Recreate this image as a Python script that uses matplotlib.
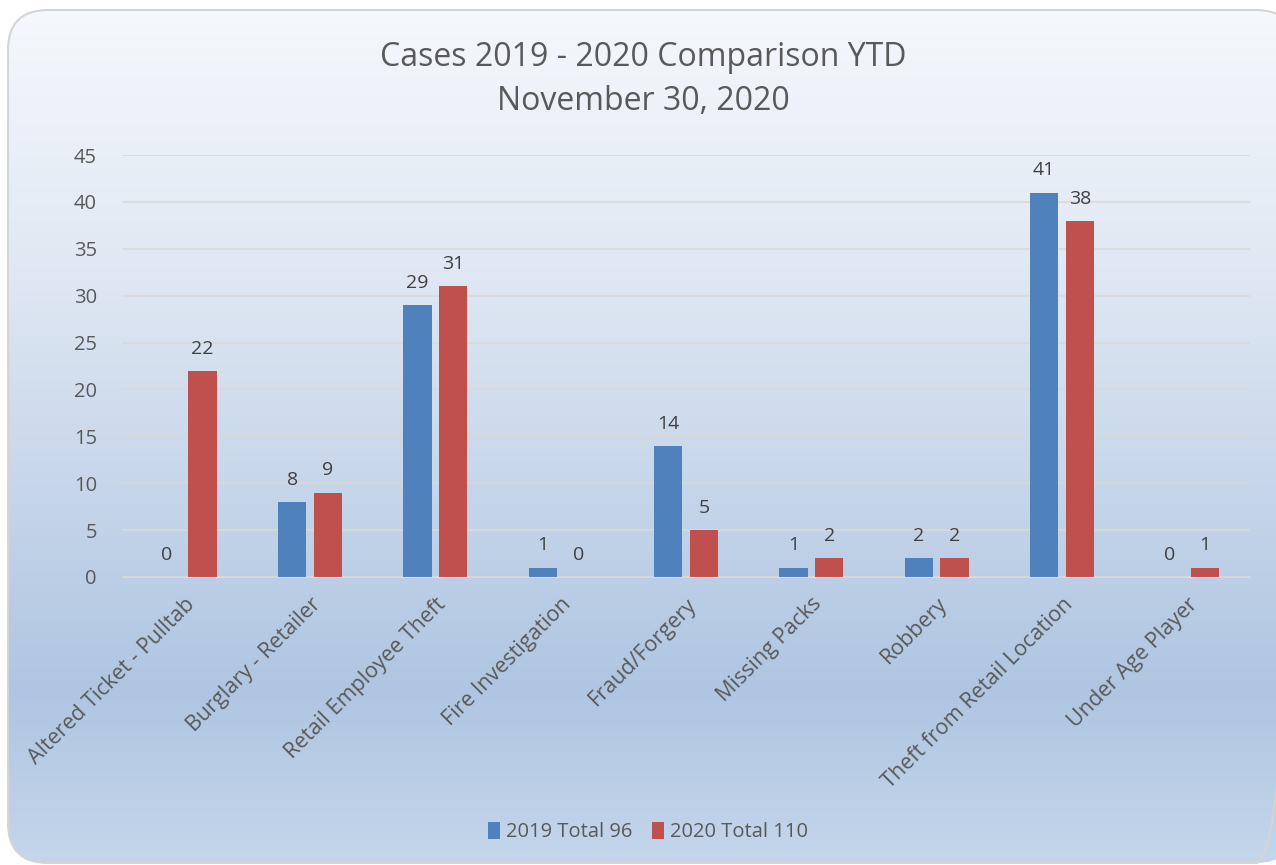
import numpy as np
import matplotlib
matplotlib.use("Agg")
import matplotlib.pyplot as plt
from matplotlib.patches import FancyBboxPatch
from matplotlib.colors import LinearSegmentedColormap

categories = ["Altered Ticket - Pulltab", "Burglary - Retailer", "Retail Employee Theft",
              "Fire Investigation", "Fraud/Forgery", "Missing Packs", "Robbery",
              "Theft from Retail Location", "Under Age Player"]
values_2019 = [0, 8, 29, 1, 14, 1, 2, 41, 0]
values_2020 = [22, 9, 31, 0, 5, 2, 2, 38, 1]
series_labels = ["2019 Total 96", "2020 Total 110"]
title_lines = ["Cases 2019 - 2020 Comparison YTD", "November 30, 2020"]

W, H = 1276, 865
fig = plt.figure(figsize=(W / 100, H / 100), dpi=100)
fig.patch.set_facecolor("white")
plt.rcParams['font.family'] = ['Open Sans', 'DejaVu Sans']
txt = "#595959"

# background gradient with rounded border
bg = fig.add_axes([0, 0, 1, 1])
bg.set_xlim(0, W); bg.set_ylim(H, 0); bg.axis("off")
cmap = LinearSegmentedColormap.from_list("g", [(0, "#f5f8fc"), (0.3, "#e0e8f3"),
                                               (0.8, "#afc5e1"), (1.0, "#c5d6eb")])
grad = np.linspace(0, 1, 256).reshape(-1, 1)
box = FancyBboxPatch((8, 10), W - 8 + 20, H - 10 - 2, boxstyle="round,pad=0,rounding_size=40",
                     facecolor="none", edgecolor="#d4d4d4", lw=1.5, transform=bg.transData)
im = bg.imshow(grad, extent=[0, W, H, 10], aspect="auto", cmap=cmap, origin="upper")
bg.add_patch(box)
im.set_clip_path(box)

ax = fig.add_axes([122 / W, 1 - 577 / H, (1250 - 122) / W, (577 - 155) / H])
ax.patch.set_alpha(0)
x = np.arange(len(categories))
bw = 0.225
gap = 0.03
b1 = ax.bar(x - bw / 2 - gap, values_2019, bw, color="#4f81bd", label=series_labels[0])
b2 = ax.bar(x + bw / 2 + gap, values_2020, bw, color="#c0504d", label=series_labels[1])
for bars in (b1, b2):
    for r in bars:
        v = r.get_height()
        ax.text(r.get_x() + r.get_width() / 2, v + 1.4, f"{int(v)}", ha="center", va="bottom",
                fontsize=14, color="#404040")

ax.set_xlim(-0.5, len(categories) - 0.5)
ax.set_ylim(0, 45)
ax.set_yticks(range(0, 46, 5))
ax.yaxis.grid(True, color="#d9d9d9", lw=1.2)
ax.set_axisbelow(True)
for s in ax.spines.values():
    s.set_visible(False)
ax.spines["bottom"].set_visible(True)
ax.spines["bottom"].set_color("#d9d9d9")
ax.tick_params(axis="both", length=0, labelcolor=txt)
ax.tick_params(axis="y", pad=18, labelsize=14.5)
ax.set_xticks(x)
ax.set_xticklabels(categories, rotation=45, ha="right", rotation_mode="anchor", fontsize=15.5)
ax.tick_params(axis="x", pad=12)

fig.text(643 / W, 1 - 57 / H, title_lines[0], ha="center", va="center", fontsize=23, color=txt)
fig.text(643 / W, 1 - 101 / H, title_lines[1], ha="center", va="center", fontsize=23, color=txt)

leg = fig.legend(handles=[b1, b2], labels=series_labels, loc="center", bbox_to_anchor=(648 / W, 1 - 832 / H),
                 ncol=2, frameon=False, fontsize=14.5, handlelength=0.6, handleheight=0.9,
                 columnspacing=1.0, handletextpad=0.3)
for t in leg.get_texts():
    t.set_color(txt)

fig.savefig("out.png", dpi=100)
